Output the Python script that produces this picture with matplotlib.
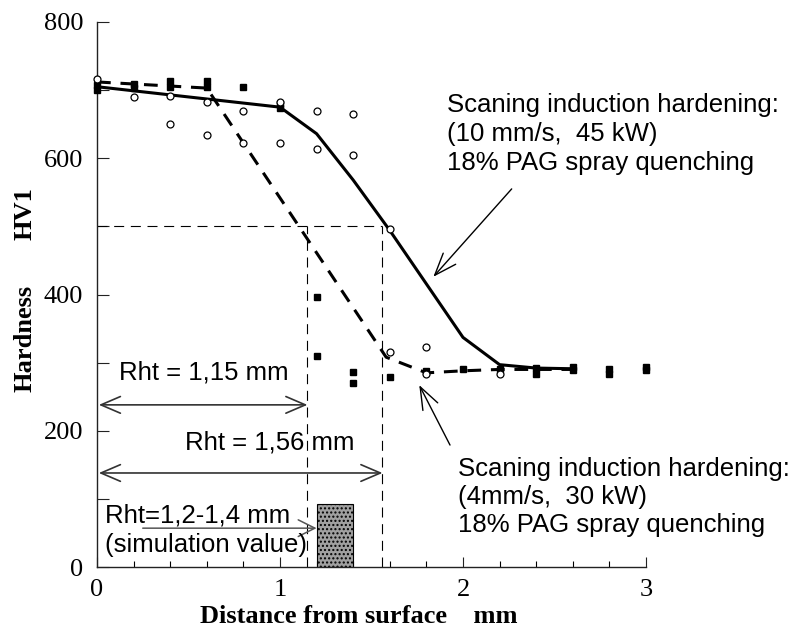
import matplotlib
matplotlib.use("Agg")
import matplotlib.pyplot as plt
from matplotlib.ticker import MultipleLocator
from matplotlib.patches import Rectangle

# ---- data ----
solid_x = [0, 1.0, 1.2, 1.4, 1.6, 2.0, 2.2, 2.4, 2.6]
solid_y = [705, 675, 636, 568, 494, 337, 297, 292, 291]

dash_x = [0, 0.6, 1.58, 1.8, 2.0, 2.2, 2.4, 2.6]
dash_y = [712, 703, 308, 285, 288, 290, 290, 290]

sq_x = [0, 0, 0.2, 0.2, 0.4, 0.4, 0.6, 0.6, 0.8, 1.0, 1.0, 1.2, 1.2, 1.4, 1.4,
        1.6, 1.8, 2.0, 2.2, 2.4, 2.4, 2.6, 2.6, 2.8, 2.8, 3.0, 3.0]
sq_y = [708, 700, 709, 703, 714, 705, 713, 704, 704, 680, 674, 397, 309, 286, 270,
        279, 287, 290, 290, 292, 284, 293, 289, 291, 284, 294, 289]

ci_x = [0, 0.2, 0.4, 0.4, 0.6, 0.6, 0.8, 0.8, 1.0, 1.0, 1.2, 1.2, 1.4, 1.4,
        1.6, 1.6, 1.8, 1.8, 2.2]
ci_y = [717, 690, 692, 650, 682, 634, 669, 622, 682, 623, 670, 614, 665, 605,
        496, 316, 323, 283, 284]

rht_low = 1.15
rht_high = 1.56
hv_limit = 500
sim_range = [1.2, 1.4]
sim_height = 92

x_ticks = [0, 1, 2, 3]
y_ticks = [0, 200, 400, 600, 800]

ann1_lines = ["Scaning induction hardening:", "(10 mm/s,  45 kW)", "18% PAG spray quenching"]
ann2_lines = ["Scaning induction hardening:", "(4mm/s,  30 kW)", "18% PAG spray quenching"]

# ---- figure ----
fig = plt.figure(figsize=(7.9, 6.28), dpi=100)
ax = fig.add_axes([97/790, 61/628, (646-97)/790, (567-22)/628])
ax.set_xlim(0, 3)
ax.set_ylim(0, 800)

serif = "Liberation Serif"
sans = "Liberation Sans"

for s in ["top", "right"]:
    ax.spines[s].set_visible(False)
for s in ["left", "bottom"]:
    ax.spines[s].set_linewidth(1.0)
    ax.spines[s].set_color("#222222")

ax.set_xticks(x_ticks)
ax.set_yticks(y_ticks)
ax.xaxis.set_minor_locator(MultipleLocator(0.2))
ax.yaxis.set_minor_locator(MultipleLocator(100))
ax.tick_params(axis="x", which="major", direction="in", length=7, width=0.8, pad=9,
               labelsize=19, colors="#222222")
ax.tick_params(axis="x", which="minor", direction="in", length=4.3, width=0.8)
ax.tick_params(axis="y", which="both", direction="in", length=8.6, width=0.8, pad=10,
               labelsize=19, colors="#222222")
for lab in ax.get_xticklabels() + ax.get_yticklabels():
    lab.set_fontfamily(serif)
    lab.set_color("black")

# reference dashed lines
ax.plot([0, rht_high], [hv_limit, hv_limit], color="black", lw=0.8, dashes=(9, 6))
ax.plot([rht_low, rht_low], [0, hv_limit], color="black", lw=0.8, dashes=(9, 6))
ax.plot([rht_high, rht_high], [0, hv_limit], color="black", lw=0.8, dashes=(9, 6))

# curves
ax.plot(solid_x, solid_y, color="black", lw=2.2, zorder=3)
ax.plot(dash_x, dash_y, color="black", lw=2.2, dashes=(4.5, 3.2), zorder=3)

# markers
ax.plot(sq_x, sq_y, linestyle="none", marker="s", ms=5, color="black", zorder=4, clip_on=False)
ax.plot(ci_x, ci_y, linestyle="none", marker="o", ms=5, mfc="white", mec="black",
        mew=0.9, zorder=5, clip_on=False)

# simulation rectangle
ax.add_patch(Rectangle((sim_range[0], 0), sim_range[1]-sim_range[0], sim_height,
                       facecolor="#a0a0a0", edgecolor="black", lw=0.8,
                       hatch="....", zorder=2))

# Rht arrows
arr_kw = dict(arrowstyle="<->,head_length=0.7,head_width=0.3", color="#333333", lw=1.2,
              shrinkA=0, shrinkB=0, mutation_scale=20)
ax.annotate("", xy=(0.01, 238), xytext=(rht_low, 238), arrowprops=arr_kw)
ax.annotate("", xy=(0.01, 138), xytext=(rht_high, 138), arrowprops=arr_kw)
ax.annotate("", xy=(sim_range[0], 57), xytext=(0.25, 57),
            arrowprops=dict(arrowstyle="->,head_length=0.6,head_width=0.3", color="#555555",
                            lw=1.1, shrinkA=0, shrinkB=0, mutation_scale=20))

# text labels
fs = 18.5
ax.text((119-97)/183, (567-380)/0.681, "Rht = 1,15 mm", family=sans, fontsize=fs, va="baseline")
ax.text((185-97)/183, (567-450)/0.681, "Rht = 1,56 mm", family=sans, fontsize=fs, va="baseline")
ax.text((105-97)/183, (567-523)/0.681, "Rht=1,2-1,4 mm", family=sans, fontsize=fs, va="baseline")
ax.text((105-97)/183, (567-551.7)/0.681, "(simulation value)", family=sans, fontsize=fs, va="baseline")

for i, line in enumerate(ann1_lines):
    ax.text((447-97)/183, (567-(112+29*i))/0.681, line, family=sans, fontsize=fs,
            va="baseline", clip_on=False)
for i, line in enumerate(ann2_lines):
    ax.text((458-97)/183, (567-(475.7+28*i))/0.681, line, family=sans, fontsize=fs,
            va="baseline", clip_on=False)

# annotation arrows
ax.annotate("", xy=(1.838, 426), xytext=(2.266, 555),
            arrowprops=dict(arrowstyle="->,head_length=0.8,head_width=0.3", color="black",
                            lw=1.0, shrinkA=0, shrinkB=0, mutation_scale=20))
ax.annotate("", xy=(1.761, 267), xytext=(1.929, 179),
            arrowprops=dict(arrowstyle="->,head_length=0.8,head_width=0.3", color="black",
                            lw=1.0, shrinkA=0, shrinkB=0, mutation_scale=20))

# axis labels
fig.text(200/790, (628-623)/628, "Distance from surface    mm", family=serif,
         fontweight="bold", fontsize=19, ha="left", va="baseline")
fig.text(25/790, (628-338)/628, "Hardness", family=serif, fontweight="bold",
         fontsize=19, rotation=90, ha="center", va="center")
fig.text(25/790, (628-214)/628, "HV1", family=serif, fontweight="bold",
         fontsize=19, rotation=90, ha="center", va="center")

fig.savefig("out.png", dpi=100)
